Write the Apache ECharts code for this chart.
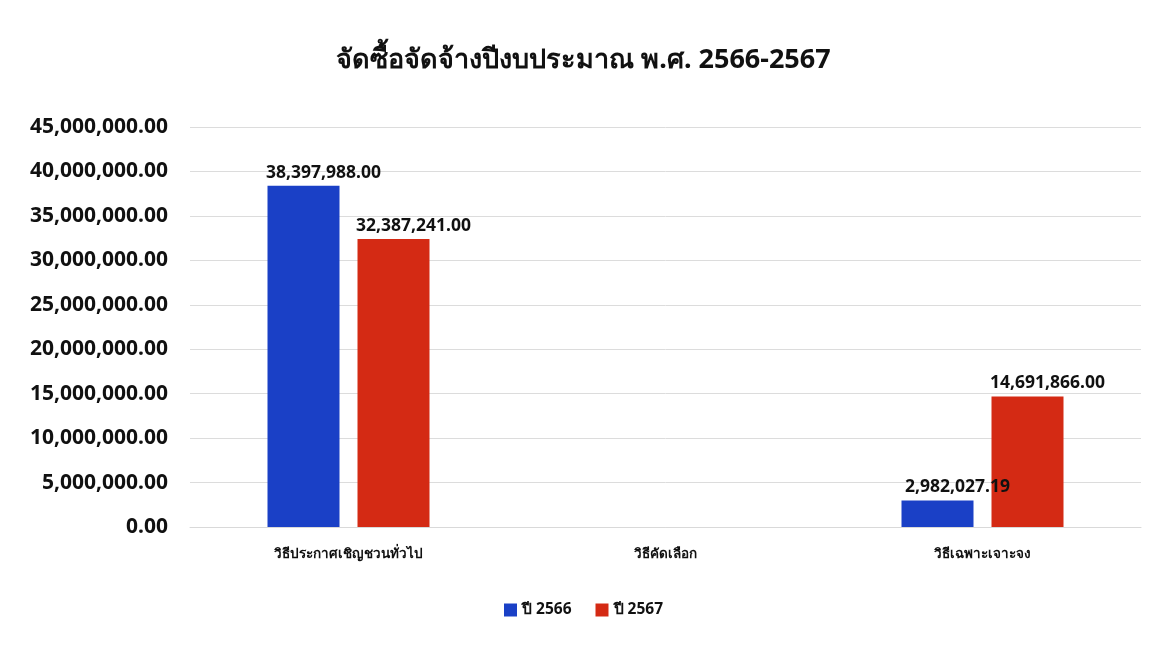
<!DOCTYPE html>
<html>
<head>
<meta charset="utf-8">
<script src="https://cdn.jsdelivr.net/npm/echarts@6/dist/echarts.min.js"></script>
<style>
  html, body { margin: 0; padding: 0; background: #ffffff; }
  #chart { width: 1167px; height: 657px; }
</style>
</head>
<body>
<div id="chart"></div>
<script>
// Procurement budget by method, fiscal years 2566 and 2567
const titleText = 'จัดซื้อจัดจ้างปีงบประมาณ พ.ศ. 2566-2567';
const categories = ['วิธีประกาศเชิญชวนทั่วไป', 'วิธีคัดเลือก', 'วิธีเฉพาะเจาะจง'];
const seriesNames = ['ปี 2566', 'ปี 2567'];
const values2566 = [38397988.00, null, 2982027.19];
const values2567 = [32387241.00, null, 14691866.00];
const yTicks = { min: 0, max: 45000000, interval: 5000000 };

const font = '"Noto Sans", "Liberation Sans", sans-serif';

function fmt(v) {
  return Number(v).toLocaleString('en-US', { minimumFractionDigits: 2, maximumFractionDigits: 2 });
}

// value labels sit above each bar, nudged to the right
const labelStyle = {
  show: true,
  position: 'top',
  distance: 4,
  offset: [20, 0],
  color: '#111',
  fontFamily: font,
  fontWeight: 'bold',
  fontSize: 17.5,
  formatter: p => (p.value == null ? '' : fmt(p.value))
};

const chart = echarts.init(document.getElementById('chart'));
chart.setOption({
  backgroundColor: '#ffffff',
  animation: false,
  title: {
    text: titleText,
    left: 'center',
    top: 42,
    textStyle: { fontFamily: font, fontWeight: 'bold', fontSize: 27, color: '#111' }
  },
  legend: {
    data: seriesNames,
    bottom: 34,
    left: 'center',
    itemWidth: 13,
    itemHeight: 13,
    itemGap: 24,
    icon: 'rect',
    textStyle: { fontFamily: font, fontWeight: 'bold', fontSize: 15.5, color: '#111' }
  },
  grid: { left: 190, right: 26, top: 127, bottom: 130 },
  xAxis: {
    type: 'category',
    data: categories,
    axisLine: { show: true, lineStyle: { color: '#d9d9d9' } },
    axisTick: { show: false },
    axisLabel: {
      fontFamily: font, fontWeight: 'bold', fontSize: 13.5, color: '#111', margin: 20
    }
  },
  yAxis: {
    type: 'value',
    min: yTicks.min,
    max: yTicks.max,
    interval: yTicks.interval,
    axisLine: { show: false },
    axisTick: { show: false },
    splitLine: { lineStyle: { color: '#dcdcdc', width: 1 } },
    axisLabel: {
      fontFamily: font, fontWeight: 'bold', fontSize: 21, color: '#111', margin: 22,
      formatter: v => fmt(v)
    }
  },
  series: [
    {
      name: seriesNames[0],
      type: 'bar',
      data: values2566,
      barWidth: 72,
      barGap: '25%',
      itemStyle: { color: '#1a40c6' },
      label: labelStyle
    },
    {
      name: seriesNames[1],
      type: 'bar',
      data: values2567,
      barWidth: 72,
      itemStyle: { color: '#d42a14' },
      label: labelStyle
    }
  ]
});
</script>
</body>
</html>
